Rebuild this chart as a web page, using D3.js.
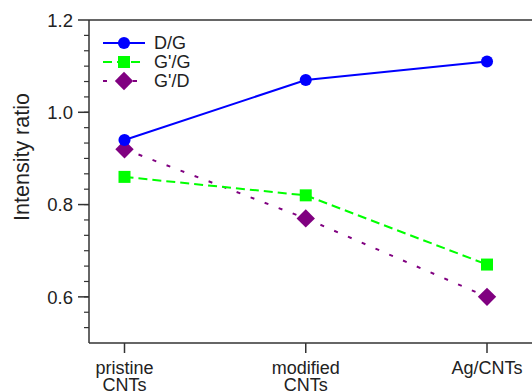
<!DOCTYPE html>
<html><head><meta charset="utf-8">
<script src="https://cdn.jsdelivr.net/npm/d3@7"></script>
<style>body{margin:0;background:#fff}svg{display:block}text{font-family:"Liberation Sans",Arial,sans-serif;fill:#222}</style>
</head><body>
<svg id="c" width="532" height="392"></svg>
<script>
const categories = [["pristine","CNTs"],["modified","CNTs"],["Ag/CNTs"]];
const seriesNames = ["D/G","G'/G","G'/D"];
const dG = [0.94, 1.07, 1.11];
const gpG = [0.86, 0.82, 0.67];
const gpD = [0.92, 0.77, 0.60];
const yTicks = [0.6, 0.8, 1.0, 1.2];
const colors = ["#0000ff","#00ff00","#800080"];
const dashes = [null, "9,5", "4,11"];
const shapes = [d3.symbolCircle, d3.symbolSquare, d3.symbolSquare];
const symSizes = [115, 144, 169];
const rotations = [0, 0, 45];

const svg = d3.select("#c");
const L = 89, R = 532, T = 20, B = 343;
const x = d3.scalePoint().domain([0,1,2]).range([124.5, 487]);
const y = d3.scaleLinear().domain([0.5, 1.2]).range([B, T]);
const axisColor = "#333";

// frame
svg.append("line").attr("x1",L).attr("x2",R).attr("y1",T).attr("y2",T).attr("stroke",axisColor).attr("stroke-width",1.5);
svg.append("line").attr("x1",L).attr("x2",R).attr("y1",B).attr("y2",B).attr("stroke",axisColor).attr("stroke-width",1.5);
svg.append("line").attr("x1",L).attr("x2",L).attr("y1",T).attr("y2",B).attr("stroke",axisColor).attr("stroke-width",1.5);

// y minor ticks
const minor = d3.range(0, 22).map(i => 0.5 + i * (0.2/6)).filter(v => v > 0.501 && v < 1.199);
svg.append("g").selectAll("line").data(minor).join("line")
  .attr("x1", L-5).attr("x2", L).attr("y1", d=>y(d)).attr("y2", d=>y(d))
  .attr("stroke", axisColor).attr("stroke-width",1.2);
// y major ticks
svg.append("g").selectAll("line").data(yTicks).join("line")
  .attr("x1", L-11).attr("x2", L).attr("y1", d=>y(d)).attr("y2", d=>y(d))
  .attr("stroke", axisColor).attr("stroke-width",1.5);
svg.append("g").selectAll("text").data(yTicks).join("text")
  .attr("x", 73).attr("y", d=>y(d)).attr("dy","0.36em").attr("text-anchor","end")
  .attr("font-size", 18.5).text(d=>d.toFixed(1));
svg.append("text").attr("transform","translate(29,157) rotate(-90)")
  .attr("text-anchor","middle").attr("font-size", 21.5).text("Intensity ratio");

// x ticks
svg.append("g").selectAll("line").data([0,1,2]).join("line")
  .attr("x1", d=>x(d)).attr("x2", d=>x(d)).attr("y1", B).attr("y2", B+10)
  .attr("stroke", axisColor).attr("stroke-width",1.5);
categories.forEach((lines,i)=>{
  lines.forEach((s,j)=>{
    svg.append("text").attr("text-anchor","middle").attr("font-size",18)
      .attr("x", x(i)).attr("y", 374 + j*17).text(s);
  });
});

// series
const series = [dG, gpG, gpD];
const line = d3.line().x((d,i)=>x(i)).y(d=>y(d));
[2,1,0].forEach(k => {
  svg.append("path").attr("d", line(series[k])).attr("fill","none")
    .attr("stroke", colors[k]).attr("stroke-width", 2)
    .attr("stroke-dasharray", dashes[k]);
});
[2,1,0].forEach(k => {
  svg.append("g").selectAll("path").data(series[k]).join("path")
    .attr("d", d3.symbol().type(shapes[k]).size(symSizes[k]))
    .attr("transform",(d,i)=>`translate(${x(i)},${y(d)}) rotate(${rotations[k]})`)
    .attr("fill", colors[k]);
});

// legend
const lg = svg.append("g");
const rows = [43, 62, 81];
seriesNames.forEach((n,k)=>{
  lg.append("line").attr("x1",103).attr("x2",145).attr("y1",rows[k]).attr("y2",rows[k])
    .attr("stroke",colors[k]).attr("stroke-width",2).attr("stroke-dasharray",dashes[k]);
  lg.append("path").attr("d", d3.symbol().type(shapes[k]).size(symSizes[k]))
    .attr("transform",`translate(124,${rows[k]}) rotate(${rotations[k]})`).attr("fill",colors[k]);
  lg.append("text").attr("x",154).attr("y",rows[k]).attr("dy","0.36em")
    .attr("font-size",18).text(n);
});
</script>
</body></html>
